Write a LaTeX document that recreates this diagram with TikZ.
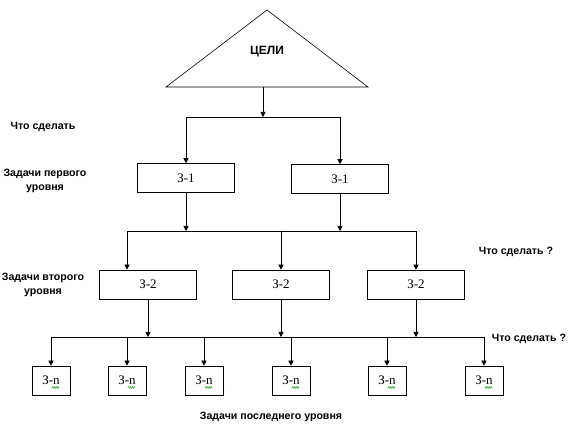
\documentclass[tikz,border=0pt]{standalone}
\usepackage{fontspec}
\setmainfont{Liberation Serif}
\newfontfamily\labelfont{Liberation Sans}
\usetikzlibrary{arrows.meta,decorations.pathmorphing}

\tikzset{
  task/.style={draw, rectangle, minimum width=97pt, minimum height=29pt, inner sep=0pt, font=\fontsize{13}{13}\selectfont},
  leaf/.style={task, minimum width=38pt},
  caption/.style={font=\labelfont\bfseries\fontsize{10.6}{13.5}\selectfont, align=center},
  arr/.style={-{Triangle[length=5pt,width=5pt]}},
  squig/.style={draw=green!60!black, line width=0.4pt, decorate, decoration={zigzag, amplitude=0.8pt, segment length=2pt}}
}

\begin{document}
\begin{tikzpicture}[x=1pt, y=-1pt, line width=0.6pt]
    \useasboundingbox (0,0) rectangle (574,430);

    % Goal triangle
    \coordinate (apex) at (267,10);
    \coordinate (baseL) at (166,87);
    \coordinate (baseR) at (368,87);
    \coordinate (base) at (263,87);
    \draw (apex) -- (baseR) -- (baseL) -- cycle;
    \node[font=\labelfont\bfseries\fontsize{12}{14}\selectfont] (goal) at (267,52) {ЦЕЛИ};

    % First level tasks
    \coordinate (bus0) at (263,117);
    \node[task] (A1) at (186,178) {З-1};
    \node[task] (A2) at (340,179) {З-1};
    \draw[arr] (base) -- (bus0);
    \draw[arr] (bus0) -| (A1.north);
    \draw[arr] (bus0) -| (A2.north);

    % Second level tasks
    \coordinate (bus1w) at (127,231);
    \coordinate (bus1e) at (416,231);
    \node[task] (B1) at (148,284.5) {З-2};
    \node[task] (B2) at (281,284.5) {З-2};
    \node[task] (B3) at (416,284.5) {З-2};
    \draw (bus1w) -- (bus1e);
    \draw[arr] (A1.south) -- (A1.south |- bus1w);
    \draw[arr] (A2.south) -- (A2.south |- bus1w);
    \draw[arr] (bus1w) -- (bus1w |- B1.north);
    \draw[arr] (B2.north |- bus1w) -- (B2.north);
    \draw[arr] (bus1e) -- (B3.north);

    % Last level tasks
    \coordinate (bus2w) at (51,337);
    \coordinate (bus2e) at (484,337);
    \draw (bus2w) -- (bus2e);
    \foreach \j in {1,2,3} {
      \draw[arr] (B\j.south) -- (B\j.south |- bus2w);
    }
    \foreach \x [count=\i] in {51,127,204,291,387,484} {
      \node[leaf] (C\i) at (\x,380.5) {З-n};
      \draw[arr] (C\i.north |- bus2w) -- (C\i.north);
      \draw[squig] (C\i.center) ++(1,7) -- ++(7,0);
    }

    % Captions
    \node[caption] (q1) at (43,127) {Что сделать};
    \node[caption] (lvl1) at (45,181) {Задачи первого\\уровня};
    \node[caption] (q2) at (516,252) {Что сделать ?};
    \node[caption] (lvl2) at (43,285) {Задачи второго\\уровня};
    \node[caption] (q3) at (529,339) {Что сделать ?};
    \node[caption] (lvlN) at (271,417) {Задачи последнего уровня};

\end{tikzpicture}
\end{document}
